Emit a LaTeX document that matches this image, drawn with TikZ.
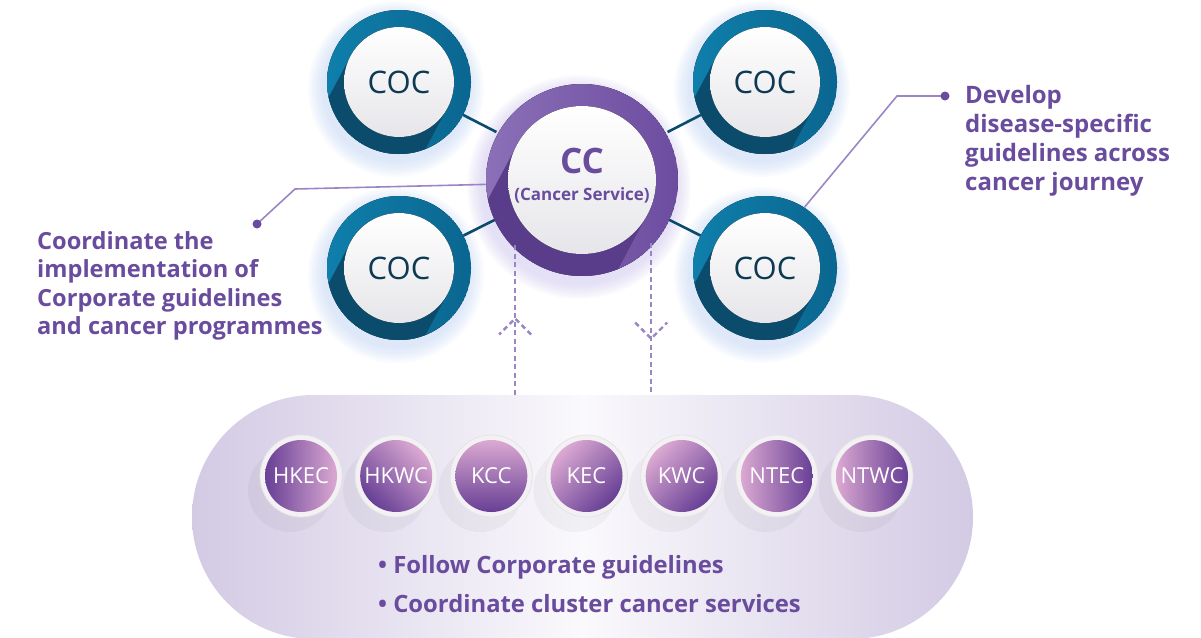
\documentclass[tikz,border=0pt]{standalone}
\usepackage{fontspec}
\setmainfont{Open Sans}
\usetikzlibrary{positioning, arrows.meta, calc, shapes.misc, decorations.markings}

\definecolor{cocLight}{HTML}{0F7FAB}
\definecolor{cocDark}{HTML}{0A6690}
\definecolor{cocShade}{HTML}{0B4C6D}
\definecolor{cocText}{HTML}{0D3A52}
\definecolor{ccLight}{HTML}{8B70B8}
\definecolor{ccDark}{HTML}{6C4C9F}
\definecolor{ccShade}{HTML}{5A3D8A}
\definecolor{accPurple}{HTML}{6A4C9E}
\definecolor{linkPurple}{HTML}{9B86C5}
\definecolor{pillEdge}{HTML}{D3CAE4}
\definecolor{pillMid}{HTML}{FAF9FC}
\definecolor{hospDark}{HTML}{673F95}
\definecolor{hospPink}{HTML}{DBA9D2}
\definecolor{hospRim}{HTML}{F3F1F3}
\definecolor{glowBlue}{HTML}{B5CCF0}
\definecolor{glowLilac}{HTML}{C3B8E8}
\definecolor{faceGrey}{HTML}{E6E6EA}

\pgfdeclarelayer{back}
\pgfdeclarelayer{ties}
\pgfsetlayers{back,ties,main}

% ring with a long shadow: centre, outer r, inner r, light, dark, shade, glow
\newcommand{\hubring}[7]{%
  \begin{pgfonlayer}{back}
    \foreach \k in {1,...,8}
      \fill[#7, opacity=0.07] ($(#1)+(-3,7)$) circle ({#2+2*\k});
  \end{pgfonlayer}
  \begin{scope}
    \clip (#1) circle (#2);
    \fill[left color=#4, right color=#5] (#1) circle (#2);
    \fill[#6] (#1) circle (#3)
      ($(#1)+(0.88*#3,0.47*#3)$) -- ++(-0.94*#2,1.76*#2) -- ++(-1.76*#3,-0.94*#3)
      -- ($(#1)+(-0.88*#3,-0.47*#3)$) -- cycle;
  \end{scope}
  \fill[top color=white, bottom color=faceGrey] (#1) circle (#3);
}

\tikzset{
  coc/.style={circle, minimum size=144, inner sep=0, font=\fontsize{31}{31}\selectfont, text=cocText},
  hub/.style={circle, minimum size=192, inner sep=0, align=center, text=accPurple,
    font=\bfseries\fontsize{17}{27}\selectfont},
  hosp/.style={circle, minimum size=72, inner sep=0, font=\fontsize{22}{22}\selectfont, text=white},
  link/.style={linkPurple, line width=1.6},
  tie/.style={cocShade, line width=2.6},
  flow/.style={linkPurple, line width=2.4, dash pattern=on 5pt off 3.5pt,
    postaction={decorate}, decoration={markings, mark=at position #1 with
      {\draw[linkPurple, line width=2.4, dash pattern=on 5pt off 3.5pt] (-16pt,-16pt) -- (0pt,0pt) -- (-16pt,16pt);}}},
  note/.style={text=accPurple, font=\bfseries\fontsize{24}{28.5}\selectfont, align=left, inner sep=0},
}

\begin{document}
\begin{tikzpicture}[x=1pt, y=-1pt]
  \useasboundingbox (0,0) rectangle (1201,637);

  % regional band
  \begin{pgfonlayer}{back}
    \node[rounded rectangle, minimum width=781, minimum height=244, inner sep=0,
      left color=pillEdge, right color=pillEdge, middle color=pillMid] (pill) at (582.5,517) {};
  \end{pgfonlayer}

  % coordinating centres
  \hubring{399,82}{72}{55}{cocLight}{cocDark}{cocShade}{glowBlue}
  \hubring{765,82}{72}{55}{cocLight}{cocDark}{cocShade}{glowBlue}
  \hubring{399,268}{72}{55}{cocLight}{cocDark}{cocShade}{glowBlue}
  \hubring{765,268}{72}{55}{cocLight}{cocDark}{cocShade}{glowBlue}
  \hubring{582,180}{96}{74}{ccLight}{ccDark}{ccShade}{glowLilac}

  \node[coc] (cocA) at (399,82) {COC};
  \node[coc] (cocB) at (765,82) {COC};
  \node[coc] (cocC) at (399,268) {COC};
  \node[coc] (cocD) at (765,268) {COC};
  \node[hub, yshift=4pt] (cc) at (582,180) {{\fontsize{35}{35}\selectfont CC}\\(Cancer Service)};

  \begin{pgfonlayer}{ties}
    \foreach \c in {cocA,cocB,cocC,cocD}
      \draw[tie] (\c) -- (cc);
  \end{pgfonlayer}

  % callouts
  \coordinate (dotL) at (257,224);
  \coordinate (dotR) at (945,96);
  \draw[link] (dotL) -- ++(38,-35) -- (cc.185);
  \draw[link] (dotR) -- ++(-48,0) -- (cocD.57);
  \fill[accPurple] (dotL) circle (4.5);
  \fill[accPurple] (dotR) circle (4.5);

  \node[note, font=\bfseries\fontsize{23.6}{28.5}\selectfont, anchor=north west] (coordNote) at (37,231)
    {Coordinate the\\implementation of\\Corporate guidelines\\and cancer programmes};
  \node[note, font=\bfseries\fontsize{24}{29}\selectfont, anchor=north west] (developNote) at (965,85)
    {Develop\\disease-specific\\guidelines across\\cancer journey};

  % dashed flows
  \draw[flow=0.51] (cc.226.7 |- pill.north) -- (cc.226.7);
  \draw[flow=0.63] (cc.316.8) -- (cc.316.8 |- pill.north);

  % clusters
  \foreach \lbl/\ang [count=\i from 0] in {HKEC/-90, HKWC/-45, KCC/0, KEC/45, KWC/45, NTEC/90, NTWC/90}{
    \fill[black, opacity=0.035] (301+95.17*\i-11,490) circle (42);
    \fill[hospRim, draw=black!10, line width=0.8] (301+95.17*\i,476) circle (41);
    \node[hosp, top color=hospPink, bottom color=hospDark, shading angle=\ang] (hosp\i) at (301+95.17*\i,476) {\lbl};
  }

  \node[note, font=\bfseries\fontsize{23.8}{39}\selectfont, anchor=north west] (roleNote) at (378,555)
    {\textbullet\ Follow Corporate guidelines\\\textbullet\ Coordinate cluster cancer services};
\end{tikzpicture}
\end{document}
